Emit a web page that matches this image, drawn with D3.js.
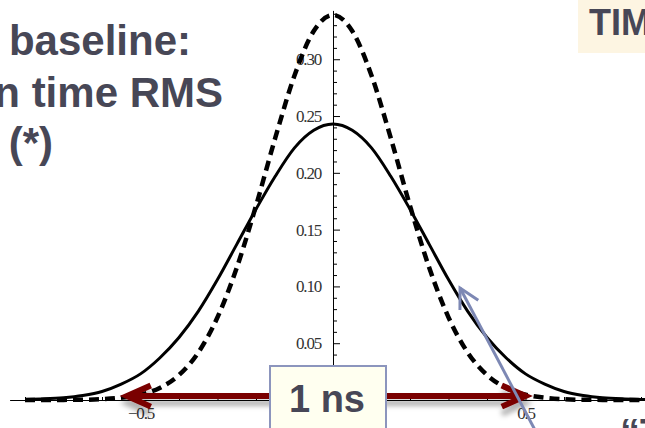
<!DOCTYPE html>
<html lang="en">
<head>
<meta charset="utf-8">
<title>Timing baseline</title>
<style>
  body { margin: 0; background: #fff; }
  svg { display: block; }
  .tick text { font-family: "Liberation Serif", "Times New Roman", serif; font-size: 17px; letter-spacing: -1.2px; fill: #333; }
  .slide-text { font-family: "Liberation Sans", Arial, sans-serif; font-weight: bold; fill: #474756; }
</style>
</head>
<body>
<svg id="chart" width="645" height="428"></svg>
<script src="https://d3js.org/d3.v7.min.js"></script>
<script>
// values
const xs = [-0.80, -0.75, -0.70, -0.65, -0.60, -0.55, -0.50, -0.45, -0.40, -0.35, -0.30, -0.25, -0.20, -0.15, -0.10, -0.05,
  0.00, 0.05, 0.10, 0.15, 0.20, 0.25, 0.30, 0.35, 0.40, 0.45, 0.50, 0.55, 0.60, 0.65, 0.70, 0.75, 0.80, 0.85];
const solidVals = [0.0005, 0.001, 0.002, 0.004, 0.0075, 0.014, 0.023, 0.037, 0.055, 0.078, 0.106, 0.137, 0.168, 0.197, 0.222, 0.2375,
  0.243, 0.2375, 0.222, 0.197, 0.168, 0.137, 0.106, 0.078, 0.055, 0.037, 0.023, 0.014, 0.0075, 0.004, 0.002, 0.001, 0.0005, 0.0002];
const dashedVals = [0, 0, 0.0001, 0.0002, 0.0007, 0.002, 0.0047, 0.0106, 0.022, 0.0417, 0.0728, 0.1164, 0.171, 0.2307, 0.2857, 0.3248,
  0.339, 0.3248, 0.2857, 0.2307, 0.171, 0.1164, 0.0728, 0.0417, 0.022, 0.0106, 0.0047, 0.002, 0.0007, 0.0002, 0.0001, 0, 0, 0];

const yMajorTicks = [0.05, 0.10, 0.15, 0.20, 0.25, 0.30];
const yMinorTicks = [0.01, 0.02, 0.03, 0.04, 0.06, 0.07, 0.08, 0.09, 0.11, 0.12, 0.13, 0.14, 0.16, 0.17, 0.18, 0.19,
  0.21, 0.22, 0.23, 0.24, 0.26, 0.27, 0.28, 0.29, 0.31, 0.32, 0.33, 0.34];
const xMajorTicks = [-0.5, 0.5];
const xMinorTicks = [-0.8, -0.7, -0.6, -0.4, -0.3, -0.2, -0.1, 0.1, 0.2, 0.3, 0.4, 0.6, 0.7, 0.8];

// annotations (data units)
const spanArrow = {from: -0.535, to: 0.5, level: 0.0035, label: "1 ns"};
const pointerArrow = {tail: [0.538, -0.035], tip: [0.33, 0.0986]};
const leftLines = ["baseline:", "n time RMS", "(*)"];
const cornerLabel = "TIM";
const bottomLabel = "\u201CT";

const svg = d3.select("#chart");

const x = d3.scaleLinear().domain([-0.84, 0.84]).range([9.6, 656.4]);
const y = d3.scaleLinear().domain([0, 0.343]).range([400, 10.4]);

const defs = svg.append("defs");
defs.append("filter").attr("id", "shadow").attr("x", "-10%").attr("y", "-100%").attr("width", "120%").attr("height", "400%")
  .append("feDropShadow").attr("dx", 0).attr("dy", 7).attr("stdDeviation", 2.5)
  .attr("flood-color", "#000").attr("flood-opacity", 0.3);

// axes
const yAxis = svg.append("g").attr("transform", `translate(${x(0)},0)`);
yAxis.call(d3.axisLeft(y).tickValues(yMinorTicks).tickSizeInner(-4).tickSizeOuter(0).tickFormat(""));
yAxis.append("g").call(d3.axisLeft(y).tickValues(yMajorTicks).tickSizeInner(-7).tickSizeOuter(0).tickPadding(12).tickFormat(d3.format(".2f")))
  .select(".domain").remove();

const xAxis = svg.append("g").attr("transform", `translate(0,${y(0)})`);
xAxis.call(d3.axisBottom(x).tickValues(xMinorTicks).tickSizeInner(-3).tickSizeOuter(0).tickFormat(""));
xAxis.append("g").call(d3.axisBottom(x).tickValues(xMajorTicks).tickSizeInner(-6).tickSizeOuter(0).tickPadding(7).tickFormat(d3.format(".1f")))
  .select(".domain").remove();
svg.selectAll(".domain").attr("stroke", "#000");
svg.selectAll(".tick line").attr("stroke", "#000");

// curves
const line = d3.line().x(d => x(d[0])).y(d => y(d[1])).curve(d3.curveMonotoneX);
svg.append("path").datum(xs.map((v, i) => [v, solidVals[i]]))
  .attr("fill", "none").attr("stroke", "#000").attr("stroke-width", 3).attr("d", line);
svg.append("path").datum(xs.map((v, i) => [v, dashedVals[i]]))
  .attr("fill", "none").attr("stroke", "#000").attr("stroke-width", 4.5).attr("stroke-dasharray", "10,6").attr("d", line);

// arrow helper: open chevron head at the tip
function arrowPath(x1, y1, x2, y2, len, ang) {
  const a = Math.atan2(y1 - y2, x1 - x2);
  const p1 = [x2 + len * Math.cos(a + ang), y2 + len * Math.sin(a + ang)];
  const p2 = [x2 + len * Math.cos(a - ang), y2 + len * Math.sin(a - ang)];
  return `M${p1}L${x2},${y2}L${p2}`;
}

// red span arrow
const red = svg.append("g").attr("filter", "url(#shadow)");
const ax1 = x(spanArrow.from), ax2 = x(spanArrow.to), ay = y(spanArrow.level);
red.append("line").attr("x1", ax1 + 3).attr("x2", ax2 - 3).attr("y1", ay).attr("y2", ay)
  .attr("stroke", "#7a0000").attr("stroke-width", 6);
red.append("path").attr("d", arrowPath(ax2, ay, ax1, ay, 26, 0.42))
  .attr("fill", "none").attr("stroke", "#7a0000").attr("stroke-width", 6);
red.append("path").attr("d", arrowPath(ax1, ay, ax2, ay, 26, 0.42))
  .attr("fill", "none").attr("stroke", "#7a0000").attr("stroke-width", 6);

// "1 ns" box
svg.append("rect").attr("x", 270).attr("y", 366).attr("width", 116).attr("height", 80)
  .attr("fill", "#fffff0").attr("stroke", "#8c95bd").attr("stroke-width", 2);
svg.append("text").attr("class", "slide-text").attr("x", 327).attr("y", 412)
  .attr("text-anchor", "middle").style("font-size", "38px").text(spanArrow.label);

// blue pointer
const bx1 = x(pointerArrow.tail[0]), by1 = y(pointerArrow.tail[1]);
const bx2 = x(pointerArrow.tip[0]), by2 = y(pointerArrow.tip[1]);
const blue = svg.append("g").attr("stroke", "#7d88b4").attr("stroke-width", 3).attr("fill", "none");
blue.append("line").attr("x1", bx1).attr("y1", by1).attr("x2", bx2).attr("y2", by2);
blue.append("path").attr("d", arrowPath(bx1, by1, bx2, by2, 22, 0.49)).attr("stroke-linejoin", "miter");

// slide text
const leftPos = [[191, 55], [223, 107], [53, 157]];
svg.selectAll(".left-line").data(leftLines).join("text")
  .attr("class", "slide-text left-line")
  .attr("x", (d, i) => leftPos[i][0]).attr("y", (d, i) => leftPos[i][1])
  .attr("text-anchor", "end").style("font-size", "42px").text(d => d);

svg.append("rect").attr("x", 578).attr("y", 0).attr("width", 80).attr("height", 53).attr("fill", "#fdf5e2");
svg.append("text").attr("class", "slide-text").attr("x", 589).attr("y", 35)
  .style("font-size", "36px").text(cornerLabel);

svg.append("text").attr("class", "slide-text").attr("x", 620).attr("y", 447)
  .style("font-size", "40px").text(bottomLabel);
</script>
</body>
</html>
